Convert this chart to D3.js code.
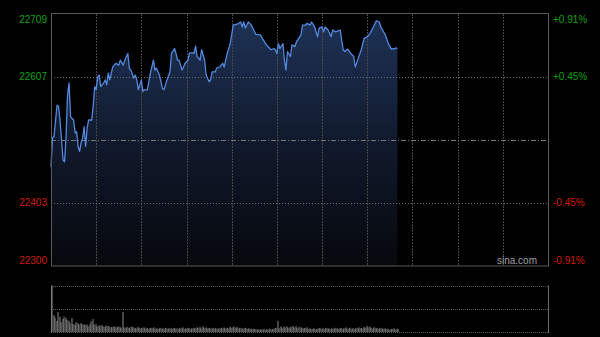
<!DOCTYPE html>
<html>
<head>
<meta charset="utf-8">
<script src="https://cdn.jsdelivr.net/npm/d3@7/dist/d3.min.js"></script>
<style>
html,body{margin:0;padding:0;background:#000;}
svg{display:block;}
text{font-family:"Liberation Sans",Arial,sans-serif;}
</style>
</head>
<body>
<svg id="chart" width="600" height="337"></svg>
<script>
// ---- data (minutes after 9:30 trading start, index level) ----
const minutes = [0,1,2,4,5,6,7,8,9,10,11,12,13,15,16,17,18,19,20,21,22,23,24,25,27,28,29,30,31,32,33,35,36,37,38,39,41,42,43,45,46,48,49,51,52,53,55,56,57,58,60,61,62,64,66,68,69,70,72,74,75,77,79,80,82,83,84,85,87,88,89,91,92,94,95,96,97,99,100,102,103,105,106,107,109,110,112,113,114,115,117,119,121,124,126,127,128,129,131,133,136,139,141,143,146,148,149,150,151,152,154,155,156,157,159,160,162,163,166,167,169,170,172,173,175,177,178,180,181,182,184,186,187,189,192,194,195,197,199,201,202,204,206,208,210,212,214,216,218,219,222,224,226,227,228,229,230];
const prices  = [22461,22508,22510,22561,22559,22537,22505,22472,22469,22510,22578,22597,22542,22537,22516,22518,22494,22486,22500,22508,22526,22494,22524,22537,22537,22559,22591,22586,22607,22610,22591,22597,22602,22594,22613,22602,22623,22626,22629,22626,22634,22626,22634,22645,22621,22618,22605,22610,22602,22586,22602,22583,22586,22586,22613,22634,22618,22621,22610,22588,22586,22602,22615,22645,22653,22645,22634,22634,22618,22623,22629,22634,22646,22646,22645,22657,22640,22634,22651,22634,22610,22599,22602,22615,22615,22621,22623,22626,22629,22623,22645,22661,22691,22693,22696,22688,22696,22686,22696,22691,22676,22675,22667,22659,22651,22653,22651,22645,22661,22653,22661,22634,22618,22648,22640,22659,22656,22664,22675,22691,22691,22694,22691,22696,22688,22672,22686,22688,22680,22688,22683,22672,22683,22680,22683,22651,22648,22652,22645,22640,22623,22637,22651,22670,22672,22678,22688,22698,22696,22688,22675,22661,22652,22653,22652,22654,22653];
// per-minute volume (relative, 100 = panel top)
const volumes = [
 100,36,31,24,43,33,21,28,33,31,
 26,24,19,30,17,16,21,19,16,19,
 17,16,16,16,12,16,23,28,16,17,
 12,14,13,15,12,11,14,13,12,10,
 11,12,11,10,12,11,9,43,10,9,
 11,9,10,12,10,9,8,11,9,8,
 9,10,8,9,7,8,9,8,10,7,
 8,7,9,8,7,8,9,7,8,8,
 7,9,8,8,7,9,8,10,7,8,
 9,8,7,8,9,8,10,9,11,8,
 12,9,10,8,9,8,7,9,8,8,
 7,8,9,8,10,8,9,8,11,9,
 10,12,9,11,8,9,8,7,9,8,
 7,8,7,6,7,6,5,6,5,6,
 5,6,5,6,5,7,6,7,8,9,
 24,8,12,9,11,10,12,9,10,11,
 13,10,12,9,11,10,9,8,9,10,
 7,8,6,7,8,6,7,8,9,7,
 8,7,9,8,7,6,8,7,9,8,
 7,8,9,7,8,10,7,8,9,7,
 8,7,9,8,10,9,8,11,9,13,
 10,12,9,8,10,9,8,7,9,8,
 7,8,6,7,5,6,7,8,6,7,
 6];
const leftTicks  = [22709, 22607, 22403, 22300];
const rightTicks = ["+0.91%", "+0.45%", "-0.45%", "-0.91%"];
const prevClose = 22504.5;
const gridMinutes = [30,60,90,120,150,180,210,240,270,300];
const totalMinutes = 330;

// ---- layout ----
const svg = d3.select("#chart");
const L = 51, R = 548, T = 14, B = 266;
const VT = 285.5, VB = 332;

const x = d3.scaleLinear().domain([0, totalMinutes]).range([L, R]);
const y = d3.scaleLinear().domain([22300, 22709]).range([B, T]);
const yv = d3.scaleLinear().domain([0, 100]).range([VB, VT]);

svg.append("rect").attr("width",600).attr("height",337).attr("fill","#000");

const defs = svg.append("defs");
const grad = defs.append("linearGradient").attr("id","areaGrad")
  .attr("gradientUnits","userSpaceOnUse").attr("x1",0).attr("x2",0).attr("y1",T).attr("y2",B);
grad.append("stop").attr("offset","0%").attr("stop-color","#1f3358");
grad.append("stop").attr("offset","50%").attr("stop-color","#111a2d");
grad.append("stop").attr("offset","100%").attr("stop-color","#06080d");

// area + line
const pts = minutes.map((m,i)=>({m, p: prices[i]}));
svg.append("path").datum(pts)
  .attr("fill","url(#areaGrad)")
  .attr("d", d3.area().x(d=>x(d.m)).y0(B).y1(d=>y(d.p)));

// vertical grid
svg.append("g").selectAll("line").data(gridMinutes).join("line")
  .attr("x1",d=>Math.round(x(d))+0.5).attr("x2",d=>Math.round(x(d))+0.5)
  .attr("y1",T).attr("y2",B)
  .attr("stroke","#474747").attr("stroke-dasharray","2,1");

// horizontal grid
svg.append("g").selectAll("line").data([22607,22403]).join("line")
  .attr("x1",L).attr("x2",R)
  .attr("y1",d=>Math.round(y(d))+0.5).attr("y2",d=>Math.round(y(d))+0.5)
  .attr("stroke","#6a6a6a").attr("stroke-dasharray","1,2");
svg.append("line")
  .attr("x1",L).attr("x2",R)
  .attr("y1",Math.round(y(prevClose))+0.5).attr("y2",Math.round(y(prevClose))+0.5)
  .attr("stroke","#777").attr("stroke-dasharray","5,2,1,2");

svg.append("path").datum(pts)
  .attr("fill","none").attr("stroke","#5289df").attr("stroke-width",1.3)
  .attr("stroke-linejoin","round")
  .attr("d", d3.line().x(d=>x(d.m)).y(d=>y(d.p)));

// border
svg.append("rect").attr("x",L+0.5).attr("y",T-0.5).attr("width",R-L).attr("height",B-T+0.5)
  .attr("fill","none").attr("stroke","#5a5a5a");

// left labels
const yLabelPos = v => Math.min(Math.max(y(v), T + 5), B - 6);
svg.append("g").selectAll("text").data(leftTicks).join("text")
  .attr("x",47).attr("y",d=>yLabelPos(d)).attr("dy","0.35em")
  .attr("text-anchor","end").attr("font-size",10)
  .attr("fill",d=>d>prevClose?"#12a012":"#d01a0a")
  .text(d=>d);
// right labels
svg.append("g").selectAll("text").data(rightTicks).join("text")
  .attr("x",553).attr("y",(d,i)=>yLabelPos(leftTicks[i])).attr("dy","0.35em")
  .attr("text-anchor","start").attr("font-size",10)
  .attr("fill",d=>d[0]==="+"?"#12a012":"#d01a0a")
  .text(d=>d);

// watermark
svg.append("text").attr("x",537).attr("y",264).attr("text-anchor","end")
  .attr("font-size",10).attr("fill","#a0a0a0").text("sina.com");

// volume panel grid
[VT, (VT+VB)/2, VB].forEach(v=>{
  svg.append("line").attr("x1",L).attr("x2",R)
    .attr("y1",Math.round(v)+0.5).attr("y2",Math.round(v)+0.5)
    .attr("stroke","#5a5a5a").attr("stroke-dasharray","1,1");
});
svg.append("line").attr("x1",R+0.5).attr("x2",R+0.5).attr("y1",VT).attr("y2",VB+1)
  .attr("stroke","#6a6a6a");
svg.append("line").attr("x1",L+0.5).attr("x2",L+0.5).attr("y1",VT).attr("y2",VB+1)
  .attr("stroke","#6a6a6a");

// volume bars
svg.append("g").selectAll("rect").data(volumes).join("rect")
  .attr("x",(d,i)=>Math.round(x(i))+0.5)
  .attr("width",1)
  .attr("y",d=>yv(d))
  .attr("height",d=>VB-yv(d))
  .attr("fill","#8c8c8c");
</script>
</body>
</html>
